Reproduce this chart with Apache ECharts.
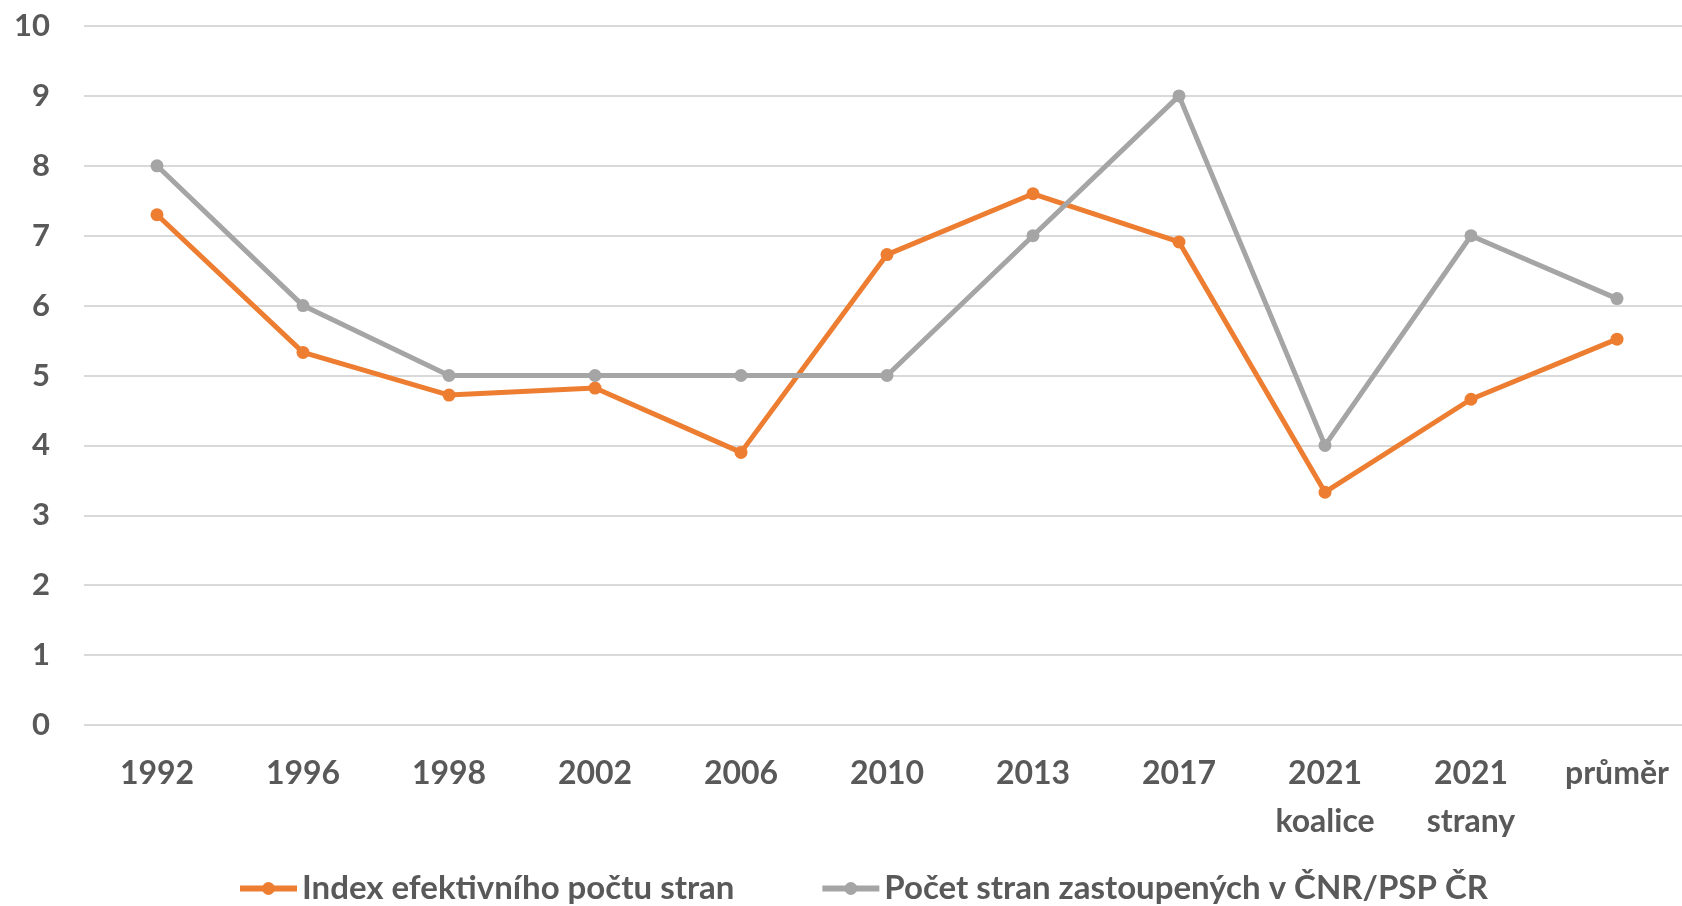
<!DOCTYPE html>
<html>
  <head>
    <meta charset="utf-8">
    <title>ECharts</title>
    <style type="text/css">
    html,body{margin:0;padding:0;background:#fff;overflow:hidden;}
    #main{width:1682px;height:906px;}
    </style>
    <script src="https://cdn.jsdelivr.net/npm/echarts@6/dist/echarts.min.js"></script>
  </head>
  <body>
    <div id="main"></div>
    <script type="text/javascript">
      var categories = ['1992','1996','1998','2002','2006','2010','2013','2017','2021\nkoalice','2021\nstrany','průměr'];
      var indexValues = [7.3, 5.33, 4.72, 4.82, 3.9, 6.73, 7.6, 6.91, 3.33, 4.66, 5.52];
      var countValues = [8, 6, 5, 5, 5, 5, 7, 9, 4, 7, 6.1];
      var seriesNames = ['Index efektivního počtu stran', 'Počet stran zastoupených v ČNR/PSP ČR'];

      var font = 'Lato';
      var textColor = '#595959';
      var myChart = echarts.init(document.getElementById('main'));
      var option = {
        animation: false,
        color: ['#ED7D31', '#A5A5A5'],
        // mřížka přesahuje pravý okraj jako v originálu
        grid: {left: 84, top: 26, width: 1606, height: 699, outerBoundsMode: 'none'},
        legend: {
          top: 867,
          left: 232,
          itemWidth: 57,
          itemHeight: 16,
          itemGap: 85,
          lineStyle: {width: 6},
          textStyle: {fontFamily: font, fontWeight: 'bold', fontSize: 33, color: textColor},
          data: seriesNames
        },
        xAxis: {
          type: 'category',
          data: categories,
          boundaryGap: true,
          axisLine: {show: false},
          axisTick: {show: false},
          axisLabel: {
            margin: 25,
            fontFamily: font, fontWeight: 'bold', fontSize: 32, color: textColor,
            lineHeight: 48, interval: 0
          }
        },
        yAxis: {
          type: 'value',
          min: 0, max: 10, interval: 1,
          axisLabel: {margin: 34, fontFamily: font, fontWeight: 'bold', fontSize: 31, color: textColor},
          splitLine: {lineStyle: {color: '#D9D9D9', width: 2}}
        },
        series: [
          {
            name: seriesNames[0], type: 'line', data: indexValues,
            symbol: 'circle', symbolSize: 13,
            lineStyle: {width: 5}
          },
          {
            name: seriesNames[1], type: 'line', data: countValues,
            symbol: 'circle', symbolSize: 13,
            lineStyle: {width: 5}
          }
        ]
      };
      myChart.setOption(option);
    </script>
  </body>
</html>
